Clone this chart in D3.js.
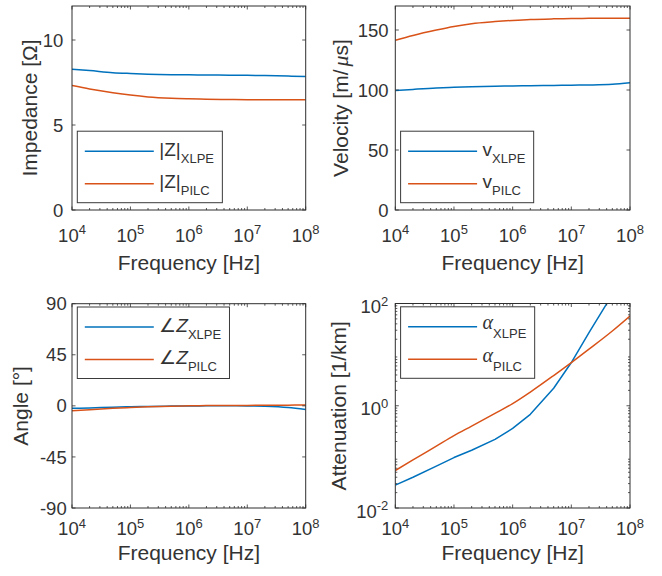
<!DOCTYPE html>
<html>
<head>
<meta charset="utf-8">
<script src="https://cdn.jsdelivr.net/npm/d3@7"></script>
<style>
  body { margin: 0; background: #fff; }
  svg { display: block; }
  text { font-family: "Liberation Sans", Arial, Helvetica, sans-serif; fill: #333; }
</style>
</head>
<body>
<svg id="fig" width="662" height="576"></svg>
<script>
// Frequency samples (Hz)
const freq = [1e4, 2e4, 5e4, 1e5, 2e5, 5e5, 1e6, 2e6, 5e6, 1e7, 2e7, 5e7, 1e8];

// Characteristic impedance magnitude (ohm)
const zXlpe = [8.28, 8.20, 8.08, 8.03, 7.99, 7.96, 7.95, 7.94, 7.93, 7.92, 7.91, 7.88, 7.85];
const zPilc = [7.32, 7.12, 6.90, 6.76, 6.65, 6.57, 6.54, 6.52, 6.50, 6.49, 6.49, 6.48, 6.48];

// Propagation velocity (m/us)
const vXlpe = [99.5, 100.5, 101.7, 102.3, 102.8, 103.2, 103.4, 103.6, 103.8, 104.0, 104.2, 104.8, 106.0];
const vPilc = [141.5, 145.5, 150.0, 153.0, 155.3, 157.0, 158.0, 158.8, 159.3, 159.5, 159.7, 159.8, 159.8];

// Impedance angle (degrees)
const angXlpe = [-2.2, -1.8, -1.2, -0.8, -0.5, -0.2, -0.1, 0.0, 0.0, -0.1, -0.4, -1.5, -3.3];
const angPilc = [-4.4, -3.4, -2.2, -1.5, -0.9, -0.3, 0.0, 0.2, 0.3, 0.4, 0.5, 0.6, 0.8];

// Attenuation (1/km)
const attXlpe = [0.028, 0.040, 0.066, 0.097, 0.135, 0.22, 0.36, 0.68, 2.2, 7.0, 27, 150, 600];
const attPilc = [0.054, 0.087, 0.162, 0.26, 0.40, 0.71, 1.1, 1.85, 3.9, 7.0, 12.8, 29, 57];

// Tick values
const freqTicks = [1e4, 1e5, 1e6, 1e7, 1e8];
const zTicks = [0, 5, 10];
const vTicks = [0, 50, 100, 150];
const angTicks = [-90, -45, 0, 45, 90];
const attTicks = [1e-2, 1e0, 1e2];

const BLUE = "#0072BD", ORANGE = "#D95319", INK = "#2e2e2e";

const svg = d3.select("#fig");

const panels = [
  {
    id: "imp", left: 72, right: 305.7, top: 6, bottom: 210,
    ylog: false, yDomain: [0, 12], yTicks: zTicks,
    yTickGap: 8.7, yLabelDx: -35.3, xTickDy: 31.6, xLabelDy: 60,
    yLabel: [{t: "Impedance [Ω]"}],
    legendPos: "sw",
    series: [
      {values: zXlpe, color: BLUE, curve: d3.curveMonotoneX, legend: [{t: "|Z|"}, {t: "XLPE", sub: true}]},
      {values: zPilc, color: ORANGE, curve: d3.curveMonotoneX, legend: [{t: "|Z|"}, {t: "PILC", sub: true}]}
    ]
  },
  {
    id: "vel", left: 395.3, right: 630, top: 6, bottom: 210,
    ylog: false, yDomain: [0, 170], yTicks: vTicks,
    yTickGap: 6.7, yLabelDx: -47, xTickDy: 31.6, xLabelDy: 60,
    yLabel: [{t: "Velocity [m/"}, {t: "μ", greek: true, dx: 3}, {t: "s]"}],
    legendPos: "sw",
    series: [
      {values: vXlpe, color: BLUE, curve: d3.curveMonotoneX, legend: [{t: "v"}, {t: "XLPE", sub: true}]},
      {values: vPilc, color: ORANGE, curve: d3.curveMonotoneX, legend: [{t: "v"}, {t: "PILC", sub: true}]}
    ]
  },
  {
    id: "ang", left: 72, right: 305.7, top: 303.7, bottom: 508,
    ylog: false, yDomain: [-90, 90], yTicks: angTicks,
    yTickGap: 5.3, yLabelDx: -44.3, xTickDy: 27.3, xLabelDy: 51.7,
    yLabel: [{t: "Angle [°]"}],
    legendPos: "nw",
    series: [
      {values: angXlpe, color: BLUE, curve: d3.curveMonotoneX, legend: [{t: "∠"}, {t: "Z", italic: true}, {t: "XLPE", sub: true}]},
      {values: angPilc, color: ORANGE, curve: d3.curveMonotoneX, legend: [{t: "∠"}, {t: "Z", italic: true}, {t: "PILC", sub: true}]}
    ]
  },
  {
    id: "att", left: 395.3, right: 630, top: 303.5, bottom: 508,
    ylog: true, yDomain: [1e-2, 1e2], yTicks: attTicks,
    yTickGap: 7, yLabelDx: -49.3, xTickDy: 27.3, xLabelDy: 51.7,
    yLabel: [{t: "Attenuation [1/km]"}],
    legendPos: "nw",
    series: [
      {values: attXlpe, color: BLUE, curve: d3.curveLinear, legend: [{t: "α", greek: true, raise: 2}, {t: "XLPE", sub: true}]},
      {values: attPilc, color: ORANGE, curve: d3.curveMonotoneX, legend: [{t: "α", greek: true, raise: 2}, {t: "PILC", sub: true}]}
    ]
  }
];

// minor tick positions (2..9 per decade) for a log domain
function logMinor(domain) {
  const out = [];
  const d0 = Math.round(Math.log10(domain[0])), d1 = Math.round(Math.log10(domain[1]));
  for (let d = d0; d < d1; d++) {
    for (let k = 2; k <= 9; k++) out.push(k * Math.pow(10, d));
  }
  return out;
}

// "10" with a superscript exponent
function powerLabel(sel, v) {
  const e = Math.round(Math.log10(v));
  sel.append("tspan").text("10");
  sel.append("tspan").attr("dy", -7.5).attr("font-size", 13).text(String(e));
}

// rich text made of plain / subscript / greek / italic parts
function richText(sel, parts, baseSize) {
  let cur = 0;
  parts.forEach(p => {
    let off = 0;
    if (p.sub) off = 7;
    if (p.raise) off = -p.raise;
    const ts = sel.append("tspan").text(p.t);
    const dy = off - cur;
    if (dy !== 0) ts.attr("dy", dy);
    if (p.dx) ts.attr("dx", p.dx);
    cur = off;
    if (p.sub) ts.attr("font-size", 13);
    if (p.greek) ts.attr("font-family", "'Liberation Serif', 'DejaVu Serif', serif")
                   .attr("font-style", "italic").attr("font-size", baseSize + 1);
    if (p.italic) ts.attr("font-style", "italic");
  });
}

const MAJ = 3.5, MIN = 2;

panels.forEach(p => {
  const g = svg.append("g");
  const x = d3.scaleLog().domain([1e4, 1e8]).range([p.left, p.right]);
  const y = (p.ylog ? d3.scaleLog() : d3.scaleLinear()).domain(p.yDomain).range([p.bottom, p.top]);

  const clipId = "clip-" + p.id;
  svg.append("defs").append("clipPath").attr("id", clipId)
    .append("rect").attr("x", p.left).attr("y", p.top)
    .attr("width", p.right - p.left).attr("height", p.bottom - p.top);

  // data curves
  p.series.forEach(s => {
    const line = d3.line().x(d => x(d[0])).y(d => y(d[1])).curve(s.curve);
    g.append("path")
      .datum(freq.map((f, i) => [f, s.values[i]]))
      .attr("d", line)
      .attr("fill", "none")
      .attr("stroke", s.color)
      .attr("stroke-width", 1.5)
      .attr("stroke-linejoin", "round")
      .attr("clip-path", `url(#${clipId})`);
  });

  // axes box
  g.append("rect")
    .attr("x", p.left).attr("y", p.top)
    .attr("width", p.right - p.left).attr("height", p.bottom - p.top)
    .attr("fill", "none").attr("stroke", INK).attr("stroke-width", 1);

  const ticks = g.append("g").attr("stroke", INK).attr("stroke-width", 0.8);

  // x ticks (bottom and top, pointing inward)
  freqTicks.forEach(t => {
    const xx = x(t);
    ticks.append("line").attr("x1", xx).attr("x2", xx).attr("y1", p.bottom).attr("y2", p.bottom - MAJ);
    ticks.append("line").attr("x1", xx).attr("x2", xx).attr("y1", p.top).attr("y2", p.top + MAJ);
  });
  logMinor([1e4, 1e8]).forEach(t => {
    const xx = x(t);
    ticks.append("line").attr("x1", xx).attr("x2", xx).attr("y1", p.bottom).attr("y2", p.bottom - MIN);
    ticks.append("line").attr("x1", xx).attr("x2", xx).attr("y1", p.top).attr("y2", p.top + MIN);
  });

  // y ticks (left and right)
  p.yTicks.forEach(t => {
    const yy = y(t);
    ticks.append("line").attr("x1", p.left).attr("x2", p.left + MAJ).attr("y1", yy).attr("y2", yy);
    ticks.append("line").attr("x1", p.right).attr("x2", p.right - MAJ).attr("y1", yy).attr("y2", yy);
  });
  if (p.ylog) {
    logMinor(p.yDomain).forEach(t => {
      const yy = y(t);
      ticks.append("line").attr("x1", p.left).attr("x2", p.left + MIN).attr("y1", yy).attr("y2", yy);
      ticks.append("line").attr("x1", p.right).attr("x2", p.right - MIN).attr("y1", yy).attr("y2", yy);
    });
  }

  // x tick labels
  freqTicks.forEach(t => {
    const tx = g.append("text")
      .attr("x", x(t)).attr("y", p.bottom + p.xTickDy)
      .attr("text-anchor", "middle").attr("font-size", 18.5);
    powerLabel(tx, t);
  });

  // y tick labels
  p.yTicks.forEach(t => {
    const tx = g.append("text")
      .attr("x", p.left - p.yTickGap)
      .attr("text-anchor", "end").attr("font-size", 18.5);
    if (p.ylog) {
      tx.attr("y", y(t) + 9.5);
      powerLabel(tx, t);
    } else {
      tx.attr("y", y(t) + 6.6).text(String(t));
    }
  });

  // axis titles
  g.append("text")
    .attr("x", (p.left + p.right) / 2).attr("y", p.bottom + p.xLabelDy)
    .attr("text-anchor", "middle").attr("font-size", 21)
    .text("Frequency [Hz]");

  const yl = g.append("text")
    .attr("transform", `translate(${p.left + p.yLabelDx},${(p.top + p.bottom) / 2}) rotate(-90)`)
    .attr("text-anchor", "middle").attr("font-size", 21);
  richText(yl, p.yLabel, 21);

  // legend
  const lx = p.left + 5.3;
  const lh = 71.5;
  const ly = p.legendPos === "sw" ? p.bottom - 7.3 - lh : p.top + 3.3;
  const lg = g.append("g");
  const box = lg.append("rect")
    .attr("x", lx).attr("y", ly).attr("height", lh)
    .attr("fill", "#fff").attr("stroke", "#3a3a3a").attr("stroke-width", 1);
  let maxRight = 0;
  p.series.forEach((s, i) => {
    const ry = ly + 20 + i * 32.5;
    lg.append("line")
      .attr("x1", lx + 7.5).attr("x2", lx + 76.5)
      .attr("y1", ry).attr("y2", ry)
      .attr("stroke", s.color).attr("stroke-width", 1.5);
    const tx = lg.append("text")
      .attr("x", lx + 82).attr("y", ry + 4.5)
      .attr("font-size", 19);
    richText(tx, s.legend, 19);
    const bb = tx.node().getBBox();
    maxRight = Math.max(maxRight, bb.x + bb.width);
  });
  box.attr("width", maxRight + 8 - lx);
});
</script>
</body>
</html>
